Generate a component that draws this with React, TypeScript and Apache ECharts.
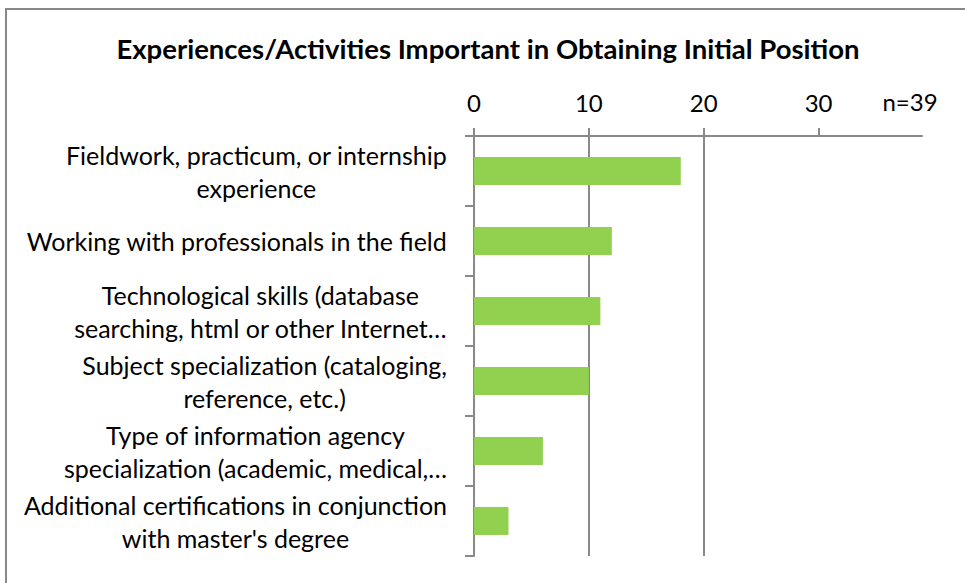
import React, { useEffect, useRef } from "react";
import * as echarts from "echarts";

const categories: string[] = [
  "Fieldwork, practicum, or internship\nexperience",
  "Working with professionals in the field",
  "Technological skills (database\nsearching, html or other Internet…",
  "Subject specialization (cataloging,\nreference, etc.)",
  "Type of information agency\nspecialization (academic, medical,…",
  "Additional certifications in conjunction\nwith master's degree",
];
const values: number[] = [18, 12, 11, 10, 6, 3];
const tickValues: number[] = [0, 10, 20, 30];
const titleText = "Experiences/Activities Important in Obtaining Initial Position";
const noteText = "n=39";
const axisMax = 39;

const FONT = "Lato, 'Liberation Sans', sans-serif";
const GRAY = "#898989";

export default function App() {
  const ref = useRef<HTMLDivElement>(null);
  useEffect(() => {
    if (!ref.current) return;
    const chart = echarts.init(ref.current, undefined, { renderer: "svg" });
    chart.setOption({
      animation: false,
      backgroundColor: "#ffffff",
      grid: { left: 474, top: 136, right: 43, bottom: 27, containLabel: false },
      xAxis: {
        type: "value",
        position: "top",
        min: 0,
        max: axisMax,
        interval: 10,
        axisLine: { show: true, lineStyle: { color: GRAY, width: 2 } },
        axisTick: { show: true, length: 8, customValues: tickValues, lineStyle: { color: GRAY, width: 2 } },
        axisLabel: {
          customValues: tickValues,
          margin: 22,
          fontFamily: FONT,
          fontSize: 24,
          color: "#000",
        },
        splitLine: { show: true, showMinLine: false, showMaxLine: false, lineStyle: { color: GRAY, width: 2 } },
      },
      yAxis: {
        type: "category",
        inverse: true,
        data: categories,
        axisLine: { show: true, lineStyle: { color: GRAY, width: 2 } },
        axisTick: { show: true, length: 9, lineStyle: { color: GRAY, width: 2 } },
        axisLabel: {
          interval: 0,
          margin: 27,
          formatter: (v: string) => v.split("\n").map((l) => `{c|${l}}`).join("\n"),
          rich: {
            c: {
              align: "center",
              fontFamily: FONT,
              fontSize: 25,
              lineHeight: 33,
              color: "#000",
            },
          },
        },
      },
      series: [
        {
          type: "bar",
          data: values,
          barCategoryGap: "60%",
          itemStyle: { color: "#92D050" },
        },
      ],
      graphic: [
        {
          type: "rect",
          z: -10,
          shape: { x: 6, y: 9, width: 1000, height: 1000 },
          style: { fill: "none", stroke: GRAY, lineWidth: 2 },
        },
        {
          type: "text",
          x: 488,
          y: 48,
          style: {
            text: titleText,
            fontFamily: FONT,
            fontWeight: "bold",
            fontSize: 27.5,
            fill: "#000",
            align: "center",
            verticalAlign: "middle",
          },
        },
        {
          type: "text",
          x: 910,
          y: 101,
          style: {
            text: noteText,
            fontFamily: FONT,
            fontSize: 24,
            fill: "#000",
            align: "center",
            verticalAlign: "middle",
          },
        },
      ],
    });
    return () => chart.dispose();
  }, []);
  return (
    <div
      ref={ref}
      style={{ position: "fixed", left: 0, top: 0, width: 965, height: 583 }}
    />
  );
}
